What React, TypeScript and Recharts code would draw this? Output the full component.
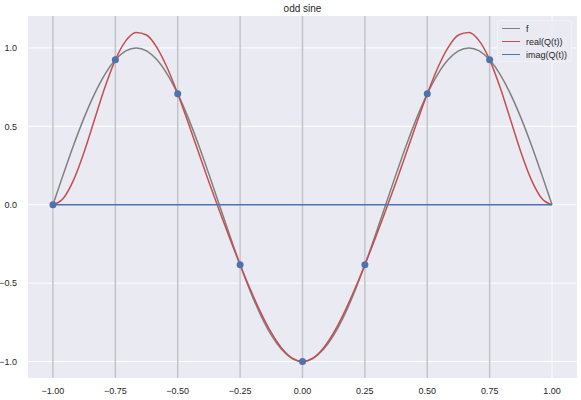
import { ComposedChart, Line, XAxis, YAxis, CartesianGrid, ReferenceLine } from "recharts";

// t grid (step 1/24) and the curves
const T = [
  -1, -0.9583, -0.9167, -0.875, -0.8333, -0.7917, -0.75, -0.7083, -0.6667, -0.625, -0.5833, -0.5417,
  -0.5, -0.4583, -0.4167, -0.375, -0.3333, -0.2917, -0.25, -0.2083, -0.1667, -0.125, -0.0833, -0.0417,
  0, 0.0417, 0.0833, 0.125, 0.1667, 0.2083, 0.25, 0.2917, 0.3333, 0.375, 0.4167, 0.4583,
  0.5, 0.5417, 0.5833, 0.625, 0.6667, 0.7083, 0.75, 0.7917, 0.8333, 0.875, 0.9167, 0.9583, 1,
];

const F_VALUES = [
  0, 0.1951, 0.3827, 0.5556, 0.7071, 0.8315, 0.9239, 0.9808, 1, 0.9808, 0.9239, 0.8315,
  0.7071, 0.5556, 0.3827, 0.1951, 0, -0.1951, -0.3827, -0.5556, -0.7071, -0.8315, -0.9239, -0.9808,
  -1, -0.9808, -0.9239, -0.8315, -0.7071, -0.5556, -0.3827, -0.1951, 0, 0.1951, 0.3827, 0.5556,
  0.7071, 0.8315, 0.9239, 0.9808, 1, 0.9808, 0.9239, 0.8315, 0.7071, 0.5556, 0.3827, 0.1951, 0,
];

const REAL_Q = [
  0, 0.0418, 0.1604, 0.3369, 0.5436, 0.7491, 0.9239, 1.0448, 1.0985, 1.0821, 1.0021, 0.8718,
  0.7071, 0.5237, 0.3339, 0.1456, -0.0373, -0.2136, -0.3827, -0.5427, -0.6895, -0.8163, -0.9152, -0.9783,
  -1, -0.9783, -0.9152, -0.8163, -0.6895, -0.5427, -0.3827, -0.2136, -0.0373, 0.1456, 0.3339, 0.5237,
  0.7071, 0.8718, 1.0021, 1.0821, 1.0985, 1.0448, 0.9239, 0.7491, 0.5436, 0.3369, 0.1604, 0.0418, 0,
];

const IMAG_Q = T.map(() => 0);

const SAMPLE_T = [-1, -0.75, -0.5, -0.25, 0, 0.25, 0.5, 0.75];
const SAMPLE_F = [0, 0.9239, 0.7071, -0.3827, -1, -0.3827, 0.7071, 0.9239];

const X_TICKS = [-1, -0.75, -0.5, -0.25, 0, 0.25, 0.5, 0.75, 1];
const Y_TICKS = [-1, -0.5, 0, 0.5, 1];

const FONT = '"Liberation Sans", Arial, sans-serif';
const TEXT = "#262626";

const fData = T.map((t, i) => ({ x: t, y: F_VALUES[i] }));
const realData = T.map((t, i) => ({ x: t, y: REAL_Q[i] }));
const imagData = T.map((t, i) => ({ x: t, y: IMAG_Q[i] }));
const sampleData = SAMPLE_T.map((t, i) => ({ x: t, y: SAMPLE_F[i] }));

const LEGEND_ITEMS = [
  { label: "f", color: "#808080" },
  { label: "real(Q(t))", color: "#c44e52" },
  { label: "imag(Q(t))", color: "#4c72b0" },
];

const minus = (s: string) => s.replace("-", "\u2212");

function LegendBox() {
  return (
    <div
      style={{
        position: "absolute",
        left: 497,
        top: 20,
        width: 75,
        height: 42,
        boxSizing: "border-box",
        background: "rgba(234,234,242,0.8)",
        border: "1px solid #f2f2f6",
        borderRadius: 3,
        padding: "1px 0 0 4px",
        fontFamily: FONT,
        fontSize: 9,
        color: TEXT,
      }}
    >
      {LEGEND_ITEMS.map((it) => (
        <div key={it.label} style={{ display: "flex", alignItems: "center", height: 13, whiteSpace: "nowrap" }}>
          <span
            style={{ display: "inline-block", flexShrink: 0, width: 18, height: 1.5, background: it.color, marginRight: 6 }}
          />
          <span>{it.label}</span>
        </div>
      ))}
    </div>
  );
}

export default function App() {
  return (
    <div style={{ position: "absolute", left: 0, top: 0, width: 581, height: 400, background: "#fff" }}>
      <div
        style={{
          position: "absolute",
          left: 28,
          width: 549,
          top: 2,
          textAlign: "center",
          fontFamily: FONT,
          fontSize: 10,
          color: TEXT,
          lineHeight: "14px",
        }}
      >
        odd sine
      </div>
      <ComposedChart width={581} height={400} margin={{ top: 16, right: 4, bottom: 0, left: 0 }}>
        <CartesianGrid fill="#eaeaf2" stroke="#ffffff" strokeWidth={1} horizontalValues={Y_TICKS} verticalValues={X_TICKS} />
        <XAxis
          type="number"
          dataKey="x"
          domain={[-1.1, 1.1]}
          ticks={X_TICKS}
          allowDataOverflow
          tickFormatter={(v: number) => minus(v.toFixed(2))}
          tick={{ fontSize: 9, fill: TEXT, fontFamily: FONT }}
          tickLine={false}
          axisLine={false}
          height={22}
          tickMargin={4}
        />
        <YAxis
          type="number"
          dataKey="y"
          domain={[-1.105, 1.2035]}
          ticks={Y_TICKS}
          allowDataOverflow
          tickFormatter={(v: number) => minus(v.toFixed(1))}
          tick={{ fontSize: 9, fill: TEXT, fontFamily: FONT }}
          tickLine={false}
          axisLine={false}
          width={28}
          tickMargin={5}
        />
        {SAMPLE_T.map((t) => (
          <ReferenceLine key={t} x={t} stroke="#c2c2c8" strokeWidth={1.5} />
        ))}
        <Line data={fData} dataKey="y" type="monotone" stroke="#808080" strokeWidth={1.5} dot={false} isAnimationActive={false} />
        <Line data={realData} dataKey="y" type="monotone" stroke="#c44e52" strokeWidth={1.5} dot={false} isAnimationActive={false} />
        <Line data={imagData} dataKey="y" type="linear" stroke="#4c72b0" strokeWidth={1.5} dot={false} isAnimationActive={false} />
        <Line
          data={sampleData}
          dataKey="y"
          stroke="none"
          dot={{ r: 3.5, fill: "#4c72b0", stroke: "#4c72b0", strokeWidth: 0 }}
          isAnimationActive={false}
        />
      </ComposedChart>
      <LegendBox />
    </div>
  );
}
